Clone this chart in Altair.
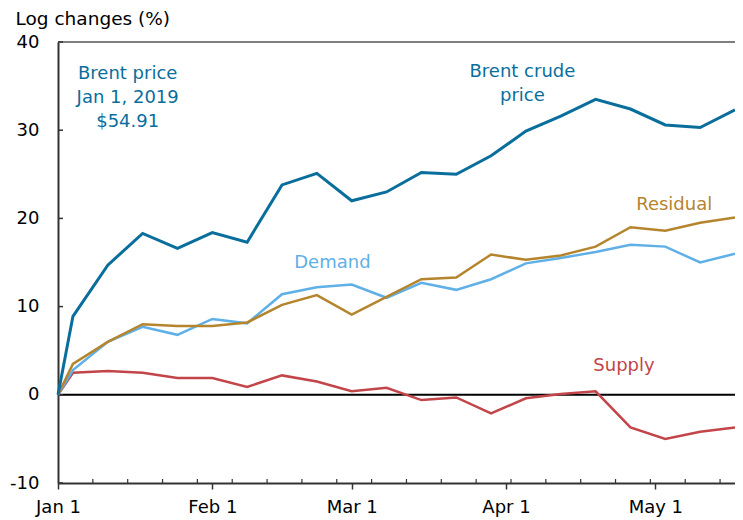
import altair as alt
import pandas as pd

# ---- data ----
dates = ["2019-01-01", "2019-01-04", "2019-01-11", "2019-01-18", "2019-01-25",
         "2019-02-01", "2019-02-08", "2019-02-15", "2019-02-22", "2019-03-01",
         "2019-03-08", "2019-03-15", "2019-03-22", "2019-03-29", "2019-04-05",
         "2019-04-12", "2019-04-19", "2019-04-26", "2019-05-03", "2019-05-10",
         "2019-05-17"]
brent = [0, 8.9, 14.7, 18.3, 16.6, 18.4, 17.3, 23.8, 25.1, 22.0, 23.0, 25.2, 25.0,
         27.1, 29.9, 31.6, 33.5, 32.4, 30.6, 30.3, 32.3]
demand = [0, 2.8, 6.0, 7.7, 6.8, 8.6, 8.1, 11.4, 12.2, 12.5, 11.0, 12.7, 11.9,
          13.1, 14.9, 15.5, 16.2, 17.0, 16.8, 15.0, 16.0]
residual = [0, 3.5, 6.0, 8.0, 7.8, 7.8, 8.2, 10.2, 11.3, 9.1, 11.1, 13.1, 13.3,
            15.9, 15.3, 15.8, 16.8, 19.0, 18.6, 19.5, 20.1]
supply = [0, 2.5, 2.7, 2.5, 1.9, 1.9, 0.9, 2.2, 1.5, 0.4, 0.8, -0.6, -0.3,
          -2.1, -0.4, 0.1, 0.4, -3.7, -5.0, -4.2, -3.7]

y_ticks = [-10, 0, 10, 20, 30, 40]
week_ticks = ["2019-01-08", "2019-01-15", "2019-01-22", "2019-01-29", "2019-02-05",
              "2019-02-12", "2019-02-19", "2019-02-26", "2019-03-05", "2019-03-12",
              "2019-03-19", "2019-03-26", "2019-04-02", "2019-04-09", "2019-04-16",
              "2019-04-23", "2019-04-30", "2019-05-07", "2019-05-14"]

label_texts = ["Brent price\nJan 1, 2019\n$54.91", "Brent crude\nprice", "Residual",
               "Demand", "Supply"]
label_dates = ["2019-01-15T00:00:00Z", "2019-04-04T07:00:00Z", "2019-05-04T19:00:00Z",
               "2019-02-25T03:00:00Z", "2019-04-24T17:00:00Z"]
label_values = [35.8, 36.0, 21.0, 14.4, 2.7]

C_BRENT = "#0a6e9c"
C_DEMAND = "#5fb0e6"
C_RESID = "#b5852e"
C_SUPPLY = "#c2454a"
label_colors = [C_BRENT, C_BRENT, C_RESID, C_DEMAND, C_SUPPLY]

FONT = "DejaVu Sans"
W, H = 677, 441

df = pd.DataFrame({"date": dates, "Brent": brent, "Demand": demand,
                   "Residual": residual, "Supply": supply})

x_scale = alt.Scale(type="utc",
                    domain=[alt.DateTime(year=2019, month=1, date=1, utc=True),
                            alt.DateTime(year=2019, month=5, date=17, utc=True)])
y_scale = alt.Scale(domain=[-10, 40], nice=False, zero=False)

month_vals = [alt.DateTime(year=2019, month=m, date=1, utc=True) for m in range(1, 6)]

x_axis = alt.Axis(values=month_vals, format="%b %-d", title=None, grid=False,
                  labelFont=FONT, labelFontSize=18, labelColor="black",
                  labelAngle=0, labelFlush=False, labelOverlap=False,
                  tickSize=6, tickColor="#333", tickWidth=1.5,
                  domainColor="#333", domainWidth=2, labelPadding=9)
y_axis = alt.Axis(values=y_ticks, grid=False, ticks=False, tickSize=0,
                  labelExpr="'' + datum.value",
                  labelFont=FONT, labelFontSize=18, labelColor="black",
                  labelPadding=19, domainColor="#333", domainWidth=2,
                  title="Log changes (%)", titleAngle=0, titleAlign="left",
                  titleBaseline="alphabetic", titleX=-43, titleY=-18,
                  titleFont=FONT, titleFontSize=18.5, titleFontWeight="normal",
                  titleColor="black")


def X(field):
    return alt.X(field, scale=x_scale, axis=x_axis)


def Y(field):
    return alt.Y(field, scale=y_scale, axis=y_axis)


def series_line(col, color, width):
    return alt.Chart(df).mark_line(color=color, strokeWidth=width).encode(
        x=X("date:T"), y=Y(f"{col}:Q"))


zero = alt.Chart(pd.DataFrame({"v": [0]})).mark_rule(color="black", strokeWidth=2).encode(
    y=Y("v:Q"))

top_border = alt.Chart(pd.DataFrame({"v": [0]})).mark_rule(color="#555", strokeWidth=1.5).encode(
    x=alt.value(0), x2=alt.value(W), y=alt.value(0))

y_minor = alt.Chart(pd.DataFrame({"v": y_ticks})).mark_rule(color="#333", strokeWidth=1.5).encode(
    y=Y("v:Q"), x=alt.value(0), x2=alt.value(5))

x_minor = alt.Chart(pd.DataFrame({"d": week_ticks})).mark_rule(color="#333", strokeWidth=1.2).encode(
    x=X("d:T"), y=alt.value(H - 4), y2=alt.value(H))

labels = alt.Chart(pd.DataFrame({"d": label_dates, "v": label_values,
                                 "t": label_texts, "c": label_colors})).mark_text(
    font=FONT, fontSize=18, align="center", baseline="alphabetic",
    lineBreak="\n", lineHeight=24).encode(
    x=X("d:T"), y=Y("v:Q"),
    text="t:N",
    color=alt.Color("c:N", scale=None))

chart = alt.layer(
    zero, top_border, y_minor, x_minor,
    series_line("Supply", C_SUPPLY, 2.5),
    series_line("Demand", C_DEMAND, 2.5),
    series_line("Residual", C_RESID, 2.5),
    series_line("Brent", C_BRENT, 3),
    labels,
).properties(
    width=W, height=H,
    autosize=alt.AutoSizeParams(type="none"),
    padding={"left": 50, "top": 34, "right": 0, "bottom": 42},
).configure_view(stroke=None)

chart.save("out.html", embed_options={"renderer": "svg", "actions": False})
